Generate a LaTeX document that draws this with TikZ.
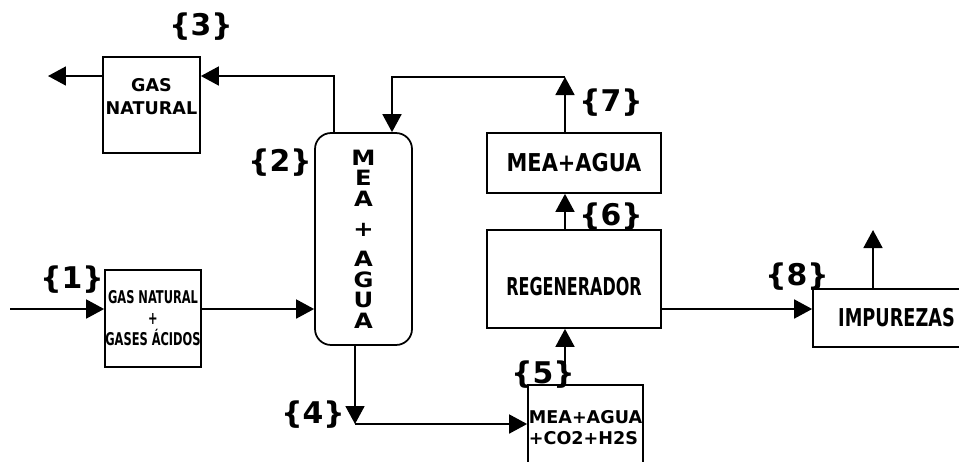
\documentclass[tikz,border=0pt]{standalone}
\usepackage{fontspec}
\setmainfont{DejaVu Sans}
\newfontfamily\tagfont{DejaVu Sans}
\newfontfamily\condfont[FakeStretch=0.85]{DejaVu Sans}
\newfontfamily\narrowfont[FakeStretch=0.72]{DejaVu Sans}
\newfontfamily\tightfont[FakeStretch=0.65]{DejaVu Sans}
\newfontfamily\widefont[FakeStretch=1.15]{DejaVu Sans}
\usetikzlibrary{arrows.meta}

\tikzset{
  unit/.style={draw, line width=1pt, inner sep=0pt, align=center},
  tag/.style={font=\tagfont\bfseries\fontsize{17}{19}\selectfont, inner sep=0pt},
  flow/.style={line width=1pt, -{Triangle[length=0.36cm,width=0.38cm]}},
}

\begin{document}
\begin{tikzpicture}[x=0.02cm, y=-0.02cm]
    \useasboundingbox (0,0) rectangle (959,461);
    \clip (0,0) rectangle (959,461);

    % units
    \node[unit, minimum width=1.94cm, minimum height=1.92cm,
          font=\bfseries\fontsize{10}{13}\selectfont] (gasout) at (151.5,105) {GAS\\NATURAL\\[-3pt]\mbox{}};
    \node[unit, minimum width=1.92cm, minimum height=1.94cm,
          font=\tightfont\bfseries\fontsize{10}{12}\selectfont] (feed) at (153,318.5) {GAS NATURAL\\+\\GASES ÁCIDOS};
    \node[unit, rounded corners=0.32cm, minimum width=1.94cm, minimum height=4.24cm,
          font=\widefont\bfseries\fontsize{12}{11.6}\selectfont] (col) at (363.5,239) {M\\E\\A\\[2mm]+\\[2mm]A\\G\\U\\A};
    \node[unit, minimum width=3.48cm, minimum height=1.2cm,
          font=\condfont\bfseries\fontsize{14}{16}\selectfont] (lean) at (574,163) {MEA+AGUA};
    \node[unit, minimum width=3.48cm, minimum height=1.96cm, text height=19pt, text depth=0pt,
          font=\tightfont\bfseries\fontsize{14}{16}\selectfont] (regen) at (574,279) {REGENERADOR};
    \node[unit, minimum width=2.3cm, minimum height=1.7cm, align=left,
          font=\bfseries\fontsize{10}{12}\selectfont] (rich) at (585.5,427.5) {MEA+AGUA\\+CO2+H2S};
    \node[unit, minimum width=3.34cm, minimum height=1.16cm,
          font=\narrowfont\bfseries\fontsize{14}{16}\selectfont] (impur) at (896.5,318) {IMPUREZAS};

    % turning points
    \coordinate (axis) at (10,309);
    \coordinate (out3) at (48,76);
    \coordinate (t3) at (334,76);
    \coordinate (t7) at (565,77);
    \coordinate (t2) at (392,77);
    \coordinate (t4) at (355,424);
    \coordinate (top8) at (873,230);

    % streams
    \draw[flow] (axis) -- (axis -| feed.west);
    \draw[flow] (feed.east |- axis) -- (axis -| col.west);
    \draw[flow] (t3 |- col.north) |- (t3 -| gasout.east);
    \draw[flow] (out3 -| gasout.west) -- (out3);
    \draw[flow] (t7 |- lean.north) -- (t7);
    \draw[flow] (t7) -- (t2) -- (t2 |- col.north);
    \draw[flow] (t7 |- regen.north) -- (t7 |- lean.south);
    \draw[flow] (t7 |- rich.north) -- (t7 |- regen.south);
    \draw[flow] (t4 |- col.south) -- (t4);
    \draw[flow] (t4) -- (t4 -| rich.west);
    \draw[flow] (regen.east |- axis) -- (impur.west |- axis);
    \draw[flow] (top8 |- impur.north) -- (top8);

    % stream numbers
    \node[tag] (s1) at (72,280) {\{1\}};
    \node[tag] (s2) at (280,163) {\{2\}};
    \node[tag] (s3) at (201,27) {\{3\}};
    \node[tag] (s4) at (313,415) {\{4\}};
    \node[tag] (s5) at (543,375) {\{5\}};
    \node[tag] (s6) at (611,217) {\{6\}};
    \node[tag] (s7) at (611,103) {\{7\}};
    \node[tag] (s8) at (797,277) {\{8\}};
\end{tikzpicture}
\end{document}
